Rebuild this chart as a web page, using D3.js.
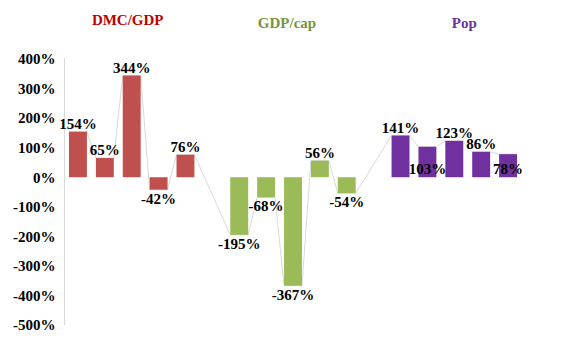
<!DOCTYPE html>
<html>
<head>
<meta charset="utf-8">
<script src="https://d3js.org/d3.v7.min.js"></script>
<style>
  body { margin: 0; background: #fff; }
  text { font-family: "Liberation Serif", "Times New Roman", serif; font-weight: bold; }
</style>
</head>
<body>
<div id="chart"></div>
<script>
// dados
const groups = ["DMC/GDP", "GDP/cap", "Pop"];
const dmcGdp = [154, 65, 344, -42, 76];
const gdpCap = [-195, -68, -367, 56, -54];
const pop = [141, 103, 123, 86, 78];
const yTicks = [400, 300, 200, 100, 0, -100, -200, -300, -400, -500];

const groupColors = ["#C0504D", "#9BBB59", "#7030A0"];
const titleColors = ["#C00000", "#77933C", "#7030A0"];
// deslocamento dos titulos em relacao ao centro do grupo (px)
const titleShift = [[-4, 25], [-6, 28], [10, 28]];
// rotulos que ficam dentro da barra (como no original)
const insideLabels = new Set(["Pop-1", "Pop-4"]);

const width = 562, height = 346;
const svg = d3.select("#chart").append("svg")
  .attr("width", width).attr("height", height);

// monta as categorias com um espaco vazio entre grupos
const series = [dmcGdp, gdpCap, pop];
const slots = [];
const bars = [];
series.forEach((vals, g) => {
  vals.forEach((v, i) => {
    const key = groups[g] + "-" + i;
    slots.push(key);
    bars.push({key: key, g: g, value: v});
  });
  if (g < series.length - 1) slots.push("gap" + g);
});

const x = d3.scaleBand()
  .domain(slots)
  .range([64.5, 521.5])
  .paddingInner(1 / 3)
  .paddingOuter(1 / 6);

const y = d3.scaleLinear()
  .domain([-500, 400])
  .range([325, 59]);

// eixo y
const yAxis = svg.append("g")
  .attr("transform", "translate(64.5,0)")
  .call(d3.axisLeft(y).tickValues(yTicks).tickSize(0).tickPadding(9).tickFormat(d => d + "%"));
yAxis.select(".domain").attr("stroke", "#D9D9D9").attr("d", "M0," + (y(400) - 1) + "V" + y(-500));
yAxis.selectAll("text")
  .style("font-family", "'Liberation Serif', serif")
  .style("font-weight", "bold")
  .style("font-size", "15px")
  .attr("fill", "#000");

// linha cinza ligando as pontas das barras
const pts = [];
bars.forEach(b => {
  pts.push([x(b.key), y(b.value)]);
  pts.push([x(b.key) + x.bandwidth(), y(b.value)]);
});
svg.append("path")
  .attr("d", d3.line()(pts))
  .attr("fill", "none")
  .attr("stroke", "#D9D9D9")
  .attr("stroke-width", 1);

// barras
svg.selectAll("rect.bar")
  .data(bars)
  .enter().append("rect")
  .attr("class", "bar")
  .attr("x", d => x(d.key))
  .attr("width", x.bandwidth())
  .attr("y", d => y(Math.max(0, d.value)))
  .attr("height", d => Math.abs(y(d.value) - y(0)))
  .attr("fill", d => groupColors[d.g]);

// rotulos de valor
svg.selectAll("text.lbl")
  .data(bars)
  .enter().append("text")
  .attr("class", "lbl")
  .attr("x", d => x(d.key) + x.bandwidth() / 2)
  .attr("y", d => {
    if (insideLabels.has(d.key)) return y(0) - 3;
    return d.value >= 0 ? y(d.value) - 3 : y(d.value) + 14;
  })
  .attr("text-anchor", "middle")
  .style("font-size", "15px")
  .attr("fill", "#000")
  .text(d => d.value + "%");

// titulos dos grupos
groups.forEach((name, g) => {
  const first = x(name + "-0");
  const last = x(name + "-" + (series[g].length - 1)) + x.bandwidth();
  svg.append("text")
    .attr("x", (first + last) / 2 + titleShift[g][0])
    .attr("y", titleShift[g][1])
    .attr("text-anchor", "middle")
    .style("font-size", "15px")
    .attr("fill", titleColors[g])
    .text(name);
});
</script>
</body>
</html>
